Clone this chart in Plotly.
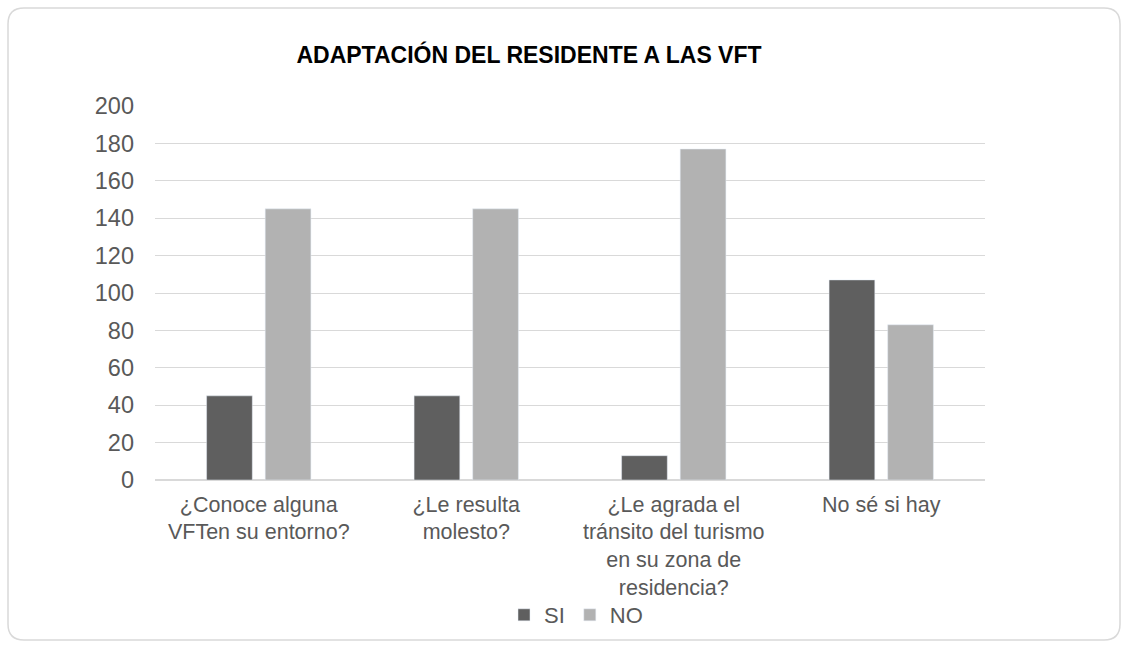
import plotly.graph_objects as go

categories = ["¿Conoce alguna<br>VFTen su entorno?", "¿Le resulta<br>molesto?",
              "¿Le agrada el<br>tránsito del turismo<br>en su zona de<br>residencia?", "No sé si hay"]
si_values = [45, 45, 13, 107]
no_values = [145, 145, 177, 83]
series_names = ["SI", "NO"]
title_text = "ADAPTACIÓN DEL RESIDENTE A LAS VFT"

W, H = 1128, 648
L, R, T, B = 155, 143, 106, 168
pw, ph = W - L - R, H - T - B

def px(x):
    return (x - L) / pw

def py(y):
    return (H - B - y) / ph

fig = go.Figure()
fig.add_trace(go.Bar(x=categories, y=si_values, name=series_names[0], marker_color="#5f5f5f"))
fig.add_trace(go.Bar(x=categories, y=no_values, name=series_names[1], marker_color="#b2b2b2"))

# rounded border
x0, x1, y0, y1, r = 8, 1120, 8, 640, 16
path = (f"M {px(x0+r)},{py(y0)} L {px(x1-r)},{py(y0)} Q {px(x1)},{py(y0)} {px(x1)},{py(y0+r)} "
        f"L {px(x1)},{py(y1-r)} Q {px(x1)},{py(y1)} {px(x1-r)},{py(y1)} "
        f"L {px(x0+r)},{py(y1)} Q {px(x0)},{py(y1)} {px(x0)},{py(y1-r)} "
        f"L {px(x0)},{py(y0+r)} Q {px(x0)},{py(y0)} {px(x0+r)},{py(y0)} Z")
fig.add_shape(type="path", path=path, xref="paper", yref="paper",
              line=dict(color="#d9d9d9", width=1.5), layer="below")

fig.update_layout(
    width=W, height=H,
    margin=dict(l=L, r=R, t=T, b=B),
    paper_bgcolor="white", plot_bgcolor="white",
    font=dict(family="Liberation Sans, Arial", size=23, color="#595959"),
    title=dict(text=f"<b>{title_text}</b>", x=529 / W, xanchor="center",
               y=1 - 55 / H, yanchor="middle",
               font=dict(size=23, color="#000000", family="Liberation Sans, Arial")),
    barmode="group", bargap=0.435, bargroupgap=0.22,
    showlegend=True,
    legend=dict(orientation="h", x=px(576), xanchor="center", y=py(615), yanchor="middle",
                bgcolor="rgba(0,0,0,0)",
                font=dict(size=22, color="#595959"), itemwidth=30, traceorder="normal"),
    xaxis=dict(showgrid=False, showline=False, ticks="", tickfont=dict(size=21.5),
               ticklabelstandoff=9),
    yaxis=dict(range=[0, 200], dtick=20, showgrid=True, gridcolor="#d9d9d9", gridwidth=1.3,
               zeroline=True, zerolinecolor="#d9d9d9", zerolinewidth=1.5,
               showline=False, ticks="", ticklabelstandoff=20, tickfont=dict(size=23.5)),
)

fig.write_html("out.html", config={"displayModeBar": False},
               post_script="document.body.style.margin='0';document.body.style.padding='0';")
